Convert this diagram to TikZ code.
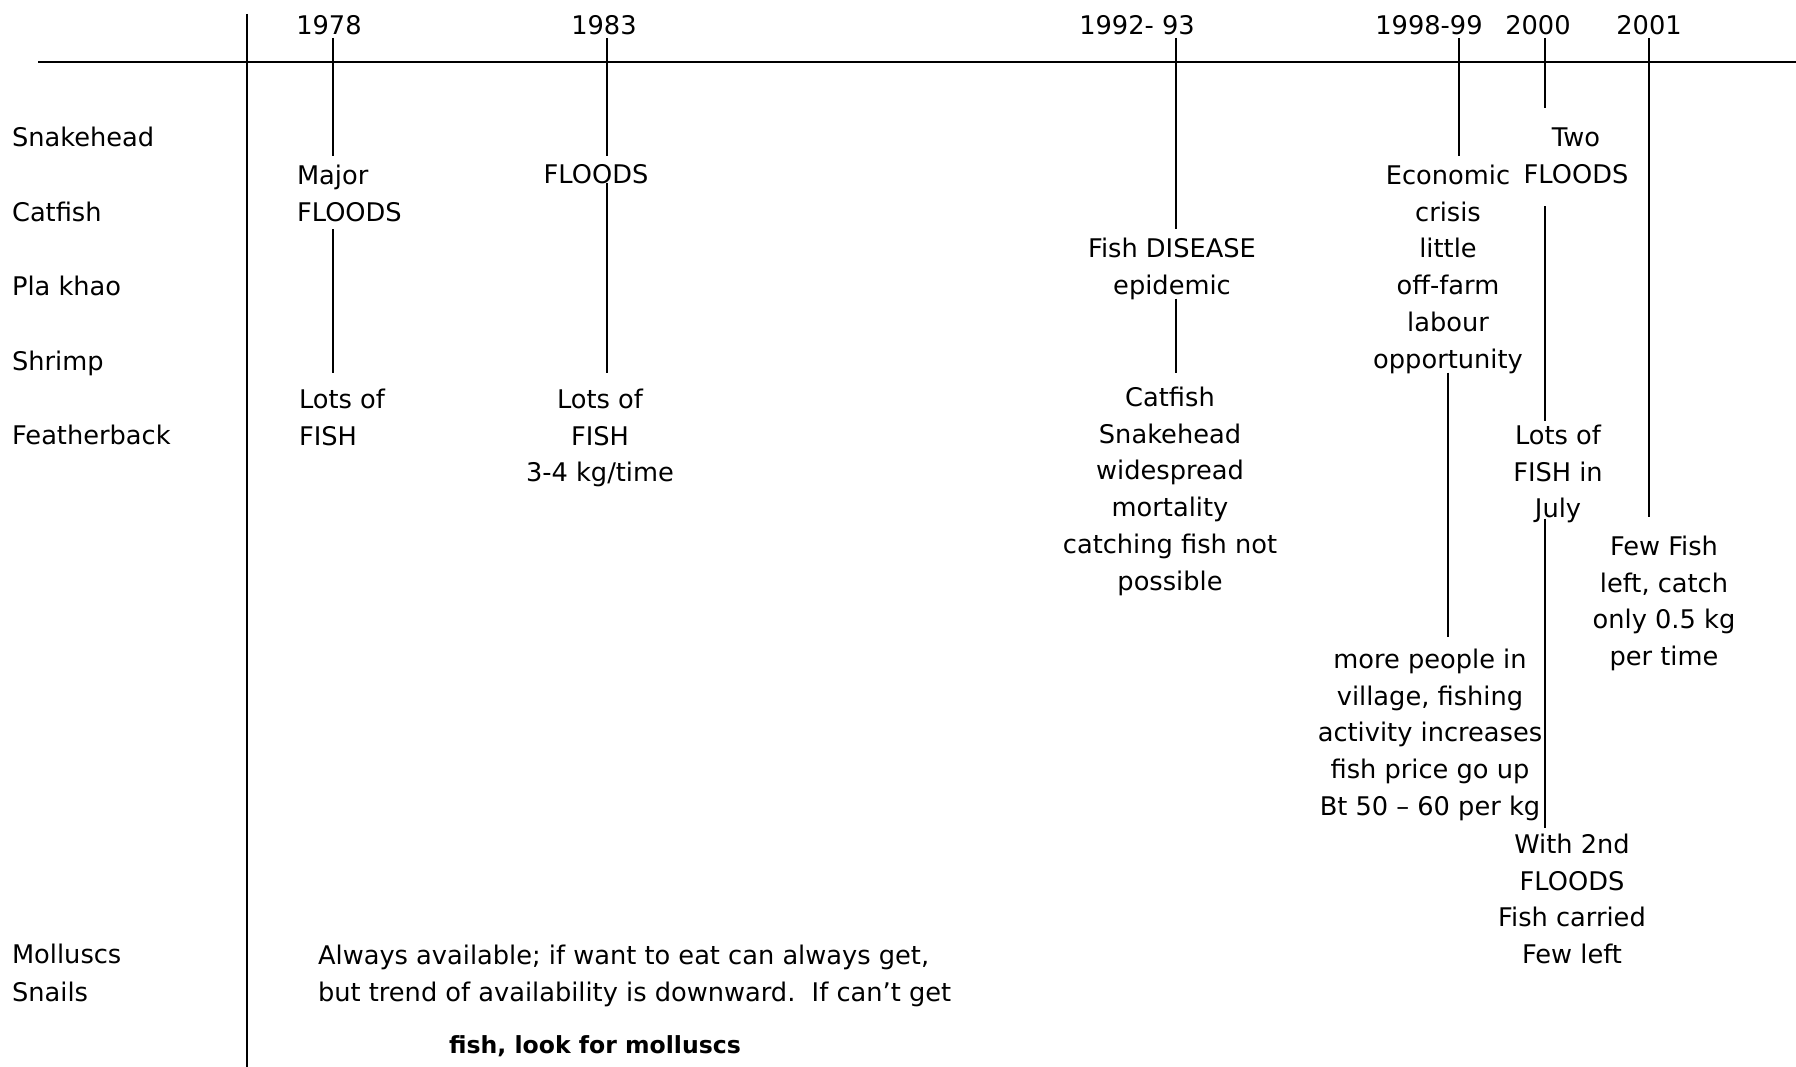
\documentclass[tikz,border=0pt]{standalone}
\usepackage{fontspec}
\setmainfont{DejaVu Sans}
\usetikzlibrary{positioning}

\begin{document}
\begin{tikzpicture}[x=0.01cm, y=-0.01cm, semithick, font=\fontsize{7.3pt}{10.5pt}\selectfont]
\tikzstyle{every node}=[inner sep=2pt]
\tikzstyle{txt}=[align=center, anchor=north]
\tikzstyle{txtl}=[align=left, anchor=north west]
\tikzstyle{row}=[anchor=north west]
\tikzstyle{tickline}=[thin]

\useasboundingbox (0,0) rectangle (1796,1067);

\draw (38,62) -- (1796,62);
\draw (247,14) -- (247,1067);

\node[txt] (y78) at (329,7.5) {1978};
\node[txt] (y83) at (604,7.5) {1983};
\node[txt] (y92) at (1137,7.5) {1992- 93};
\node[txt] (y98) at (1429,7.5) {1998-99};
\node[txt] (y00) at (1538,7.5) {2000};
\node[txt] (y01) at (1649,7.5) {2001};

\coordinate (t78) at (333,38);
\coordinate (t83) at (607,38);
\coordinate (t92) at (1176,38);
\coordinate (t98) at (1459,38);
\coordinate (t00) at (1545,38);
\coordinate (t01) at (1649,38);

\node[row] (snake) at (4,118.5) {Snakehead};
\node[row] (cat) at (4,193.5) {Catfish};
\node[row] (pla) at (4,267.5) {Pla khao};
\node[row] (shrimp) at (4,342.5) {Shrimp};
\node[row] (feather) at (4,416.5) {Featherback};
\node[row] (moll) at (4,936) {Molluscs};
\node[row] (snail) at (4,974) {Snails};

\node[txtl] (maj) at (289,156.5) {Major\\FLOODS};
\node[txtl] (lots78) at (291,380.5) {Lots of\\FISH};
\node[txt] (fl83) at (596,156.5) {FLOODS};
\node[txt] (lots83) at (600,380.5) {Lots of\\FISH\\3-4 kg/time};
\node[txt] (dis) at (1172,229.5) {Fish DISEASE\\epidemic};
\node[txt] (mort) at (1170,378.5) {Catfish\\Snakehead\\widespread\\mortality\\catching fish not\\possible};
\node[txt] (eco) at (1448,156.5) {Economic\\crisis\\little\\off-farm\\labour\\opportunity};
\node[txt] (more) at (1430,640.5) {more people in\\village, fishing\\activity increases\\fish price go up\\Bt 50 – 60 per kg};
\node[txt] (two) at (1576,119.5) {Two\\FLOODS};
\node[txt] (july) at (1558,416.5) {Lots of\\FISH in\\July};
\node[txt] (flood2) at (1572,825.5) {With 2nd\\FLOODS\\Fish carried\\Few left};
\node[txt] (few) at (1664,527.5) {Few Fish\\left, catch\\only 0.5 kg\\per time};

\node[txtl] (avail) at (310,937) {Always available; if want to eat can always get,\\but trend of availability is downward.\ \ If can’t get};
\node[txt] (look) at (595,1028) {\fontsize{6.7pt}{10pt}\selectfont\bfseries fish, look for molluscs};

\draw[tickline] (t78) -- (t78 |- maj.north);
\draw[tickline, shorten >=2pt] (t78 |- maj.south) -- (t78 |- lots78.north);
\draw[tickline] (t83) -- (t83 |- fl83.north);
\draw[tickline, shorten <=-2.7pt, shorten >=2pt] (t83 |- fl83.south) -- (t83 |- lots83.north);
\draw[tickline] (t92) -- (t92 |- dis.north);
\draw[tickline, shorten <=-2.5pt, shorten >=1.5pt] (t92 |- dis.south) -- (t92 |- mort.north);
\draw[tickline] (t98) -- (t98 |- eco.north);
\draw[tickline, shorten <=-2.7pt, shorten >=1pt] (eco.south) -- (eco.south |- more.north);
\draw[tickline, shorten >=3.3pt] (t00) -- (t00 |- two.north);
\draw[tickline, shorten <=4.1pt, shorten >=-1.3pt] (t00 |- two.south) -- (t00 |- july.north);
\draw[tickline, shorten <=-3.6pt, shorten >=-0.7pt] (t00 |- july.south) -- (t00 |- flood2.north);
\draw[tickline, shorten >=3pt] (t01) -- (t01 |- few.north);

\end{tikzpicture}
\end{document}
